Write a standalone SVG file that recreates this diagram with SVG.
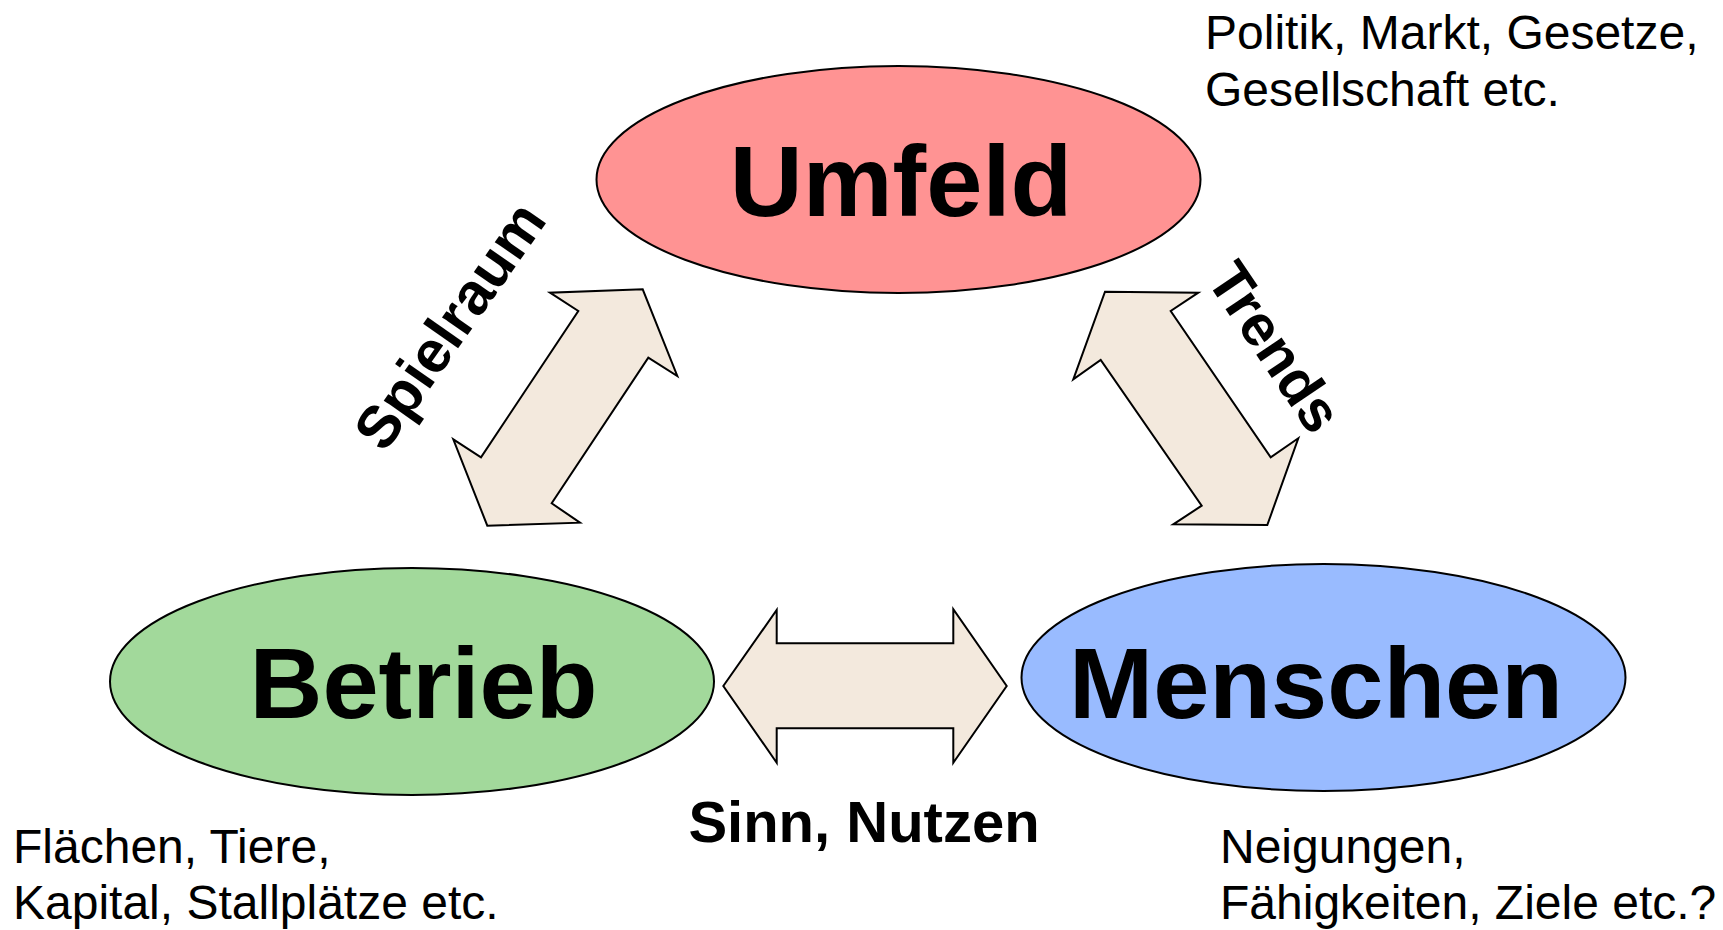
<svg xmlns="http://www.w3.org/2000/svg" width="1723" height="930" viewBox="0 0 1723 930">
<style>
.node{stroke:#000;stroke-width:2}
.big{font-family:"Liberation Sans",Arial,sans-serif;font-weight:bold;font-size:101px;text-anchor:middle;fill:#000}
.lbl{font-family:"Liberation Sans",Arial,sans-serif;font-weight:bold;font-size:58px;text-anchor:middle;fill:#000}
.note{font-family:"Liberation Sans",Arial,sans-serif;font-size:48px;fill:#000}
.arr{fill:#F3E9DD;stroke:#000;stroke-width:2;stroke-linejoin:miter}
</style>
<rect width="1723" height="930" fill="#fff"/>
<g id="connectors">
<polygon class="arr" points="550,292.7 578.3,311 481,457.3 453.3,439.3 487.3,525.7 580,522.7 551.7,503.3 648.3,357.7 677.3,376 642.7,289.3"/>
<polygon class="arr" points="1105,291.7 1198.3,292.7 1170.7,311 1270.7,457.3 1298.3,438.3 1267.3,525 1173.3,524.3 1201.7,505.7 1100.7,360 1073.3,379.3"/>
<polygon class="arr" points="723.3,686 776.7,610 776.7,643.3 953.3,643.3 953.3,609.3 1006.7,686 953.3,762.7 953.3,728.3 776.7,728.3 776.7,762.7"/>
<text class="lbl" transform="translate(449,325) rotate(-55)" x="0" y="21" style="font-size:59px">Spielraum</text>
<text class="lbl" transform="translate(1275,347) rotate(56)" x="0" y="20">Trends</text>
<text class="lbl" x="864" y="842">Sinn, Nutzen</text>
</g>
<g id="umfeld">
<ellipse class="node" cx="898.5" cy="179.5" rx="302" ry="113.5" fill="#FF9393"/>
<text class="big" x="901" y="215.5">Umfeld</text>
</g>
<g id="betrieb">
<ellipse class="node" cx="412" cy="681.5" rx="302" ry="113.5" fill="#A2D99B"/>
<text class="big" x="423.5" y="718">Betrieb</text>
</g>
<g id="menschen">
<ellipse class="node" cx="1323.5" cy="677.5" rx="302" ry="113.5" fill="#99BBFF"/>
<text class="big" x="1316" y="718">Menschen</text>
</g>
<g id="notes">
<text class="note" x="1205" y="49">Politik, Markt, Gesetze,</text>
<text class="note" x="1205" y="106">Gesellschaft etc.</text>
<text class="note" x="13" y="863">Flächen, Tiere,</text>
<text class="note" x="13" y="919">Kapital, Stallplätze etc.</text>
<text class="note" x="1220" y="863">Neigungen,</text>
<text class="note" x="1220" y="919">Fähigkeiten, Ziele etc.?</text>
</g>
</svg>
